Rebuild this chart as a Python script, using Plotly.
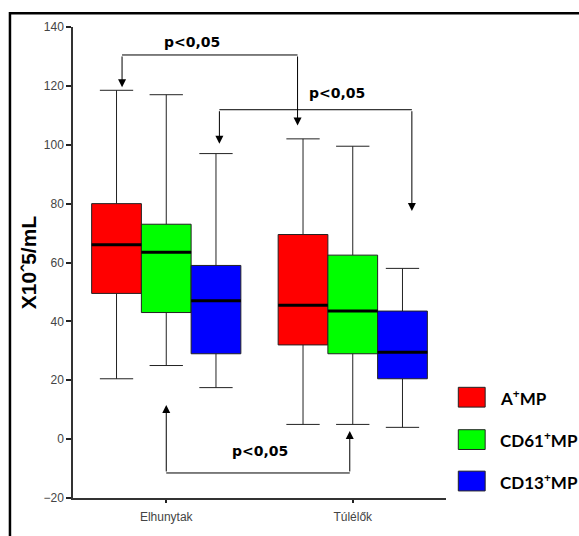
import plotly.graph_objects as go

categories = ["Elhunytak", "Túlélők"]
series_names = ["A<sup>+</sup>MP", "CD61<sup>+</sup>MP", "CD13<sup>+</sup>MP"]
series_colors = ["#ff0000", "#00ff00", "#0000ff"]
lower = [[20.5, 5], [25, 5], [17.5, 4]]
q1 = [[49.5, 32], [43, 29], [29, 20.5]]
median = [[66, 45.5], [63.5, 43.5], [47, 29.5]]
q3 = [[80, 69.5], [73, 62.5], [59, 43.5]]
upper = [[118.5, 102], [117, 99.5], [97, 58]]
y_ticks = [-20, 0, 20, 40, 60, 80, 100, 120, 140]

fig = go.Figure()
for i, name in enumerate(series_names):
    fig.add_trace(go.Box(
        x=categories, q1=q1[i], median=median[i], q3=q3[i],
        lowerfence=lower[i], upperfence=upper[i],
        name=name, fillcolor=series_colors[i],
        line=dict(color="#222222", width=1), whiskerwidth=0.67,
        showlegend=False, hoverinfo="skip",
    ))

shapes = []
annotations = []
nb = len(series_names)
bw = 0.8 / nb
for i in range(nb):
    off = (i - (nb - 1) / 2) * bw
    for c in range(len(categories)):
        shapes.append(dict(type="line", xref="x", yref="y",
                           x0=c + off - bw / 2, x1=c + off + bw / 2,
                           y0=median[i][c], y1=median[i][c],
                           line=dict(color="black", width=3)))

# significance brackets
def hline(x0, x1, y):
    shapes.append(dict(type="line", xref="x", yref="y", x0=x0, x1=x1, y0=y, y1=y,
                       line=dict(color="black", width=1)))

def arrow(x, y_from, y_to):
    annotations.append(dict(x=x, y=y_to, ax=x, ay=y_from, xref="x", yref="y",
                            axref="x", ayref="y", text="", showarrow=True,
                            arrowhead=2, arrowsize=1.6, arrowwidth=1,
                            arrowcolor="black", standoff=0))

def ptext(x, y):
    annotations.append(dict(x=x, y=y, xref="x", yref="y", text="<b>p<0,05</b>",
                            showarrow=False,
                            font=dict(family="DejaVu Sans", size=14, color="black")))

hline(-0.237, 0.704, 130.5)
arrow(-0.237, 130.5, 119.5)
arrow(0.704, 130.5, 106.5)
ptext(0.14, 135)

hline(0.285, 1.317, 111.9)
arrow(0.285, 111.9, 100.3)
arrow(1.317, 111.9, 77.5)
ptext(0.913, 117.5)

hline(0, 0.984, -11.5)
arrow(0, -11.5, 11.6)
arrow(0.984, -11.5, 2.8)
ptext(0.5, -4)

# legend drawn manually
x_l0, x_l1 = 1.033, 1.105
leg_y = [0.214, 0.124, 0.036]
for i, name in enumerate(series_names):
    shapes.append(dict(type="rect", xref="paper", yref="paper",
                       x0=x_l0, x1=x_l1, y0=leg_y[i] - 0.021, y1=leg_y[i] + 0.021,
                       fillcolor=series_colors[i], line=dict(color="#222222", width=1)))
    annotations.append(dict(x=1.14, y=leg_y[i], xref="paper", yref="paper",
                            xanchor="left", yanchor="middle", showarrow=False,
                            text="<b>" + name + "</b>",
                            font=dict(family="Lato", size=17, color="black")))

# outer frame
shapes.append(dict(type="rect", xref="paper", yref="paper",
                   x0=-0.169, x1=1.6, y0=-0.3, y1=1.029,
                   line=dict(color="black", width=2.5), layer="below"))

fig.update_layout(
    width=579, height=536,
    margin=dict(l=73, r=133, t=27, b=36),
    paper_bgcolor="white", plot_bgcolor="white",
    boxmode="group", boxgap=0.2, boxgroupgap=0,
    shapes=shapes, annotations=annotations,
    showlegend=False,
    font=dict(family="Liberation Sans"),
)
fig.update_xaxes(range=[-0.5, 1.5], showline=True, linecolor="#333333", linewidth=1.5,
                 ticks="outside", ticklen=3, tickwidth=2, tickcolor="#222222",
                 ticklabelstandoff=4,
                 tickfont=dict(size=12, color="#444444"), showgrid=False, zeroline=False)
fig.update_yaxes(range=[-20, 140], tickvals=y_ticks, showline=True, linecolor="#333333",
                 linewidth=1.5, ticks="outside", ticklen=5, tickwidth=2, tickcolor="#222222",
                 tickfont=dict(size=12, color="#444444"), showgrid=False, zeroline=False,
                 title=dict(text="<b>X10ˆ5/mL</b>", font=dict(size=21, color="black"),
                            standoff=1))

fig.write_html("out.html")
